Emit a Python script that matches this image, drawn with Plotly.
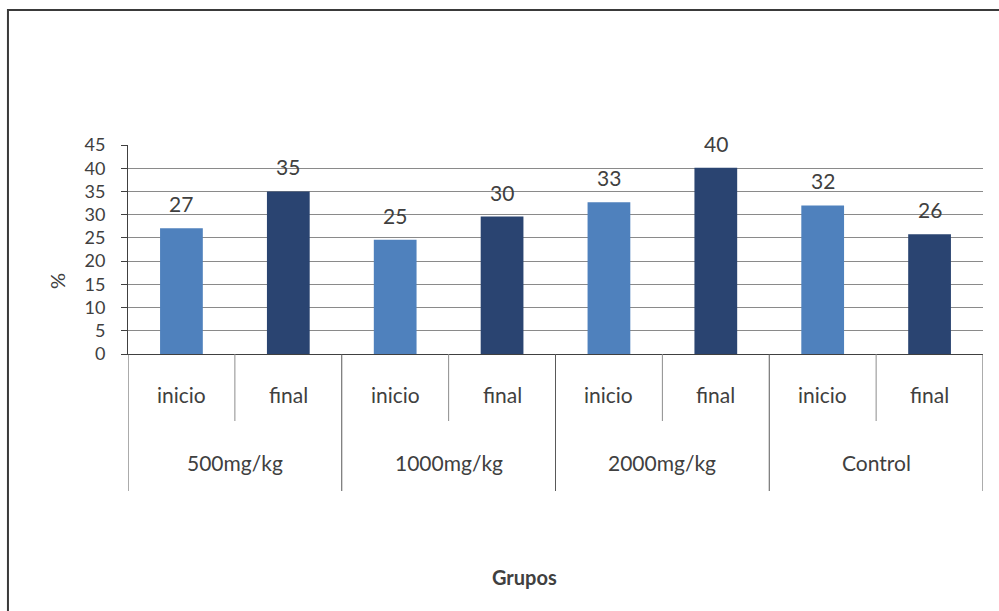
import plotly.graph_objects as go

# Data: percentage per group, measured at start ("inicio") and end ("final")
groups = ["500mg/kg", "1000mg/kg", "2000mg/kg", "Control"]
phases = ["inicio", "final"]
inicio_vals = [27.1, 24.6, 32.7, 32.0]
final_vals = [35.0, 29.6, 40.1, 25.8]
y_ticks = [0, 5, 10, 15, 20, 25, 30, 35, 40, 45]

# Flatten into one ordered sequence of bars: group by group, inicio then final
values = []
phase_of_bar = []
for a, b in zip(inicio_vals, final_vals):
    values += [a, b]
    phase_of_bar += phases
x_pos = list(range(len(values)))

COL_INICIO = "#4F81BD"
COL_FINAL = "#2A4471"
colors = [COL_INICIO if p == "inicio" else COL_FINAL for p in phase_of_bar]

FONT = "Lato, 'Open Sans', sans-serif"
TXT = "#404040"
LABEL_SIZE = 21

fig = go.Figure()
fig.add_trace(go.Bar(
    x=x_pos, y=values, width=0.4,
    marker=dict(color=colors, line=dict(width=0)),
    showlegend=False, hoverinfo="y",
))

annotations = []
# value labels above each bar
for xi, v in zip(x_pos, values):
    annotations.append(dict(
        x=xi, y=v, xref="x", yref="y", text=f"{v:.0f}",
        showarrow=False, yanchor="bottom", yshift=10,
        font=dict(family=FONT, size=LABEL_SIZE, color=TXT),
    ))
# first-level category labels (inicio / final)
for xi, p in zip(x_pos, phase_of_bar):
    annotations.append(dict(
        x=xi, y=-0.196, xref="x", yref="paper", text=p,
        showarrow=False, yanchor="middle",
        font=dict(family=FONT, size=LABEL_SIZE, color=TXT),
    ))
# second-level category labels (groups)
for gi, g in enumerate(groups):
    annotations.append(dict(
        x=2 * gi + 0.5, y=-0.5215, xref="x", yref="paper", text=g,
        showarrow=False, yanchor="middle",
        font=dict(family=FONT, size=LABEL_SIZE, color=TXT),
    ))
# axis titles
annotations.append(dict(
    x=0.464, y=-1.067, xref="paper", yref="paper", text="<b>Grupos</b>",
    showarrow=False, yanchor="middle",
    font=dict(family=FONT, size=20, color=TXT),
))
annotations.append(dict(
    x=-0.083, y=0.349, xref="paper", yref="paper", text="%", textangle=-90,
    showarrow=False, yanchor="middle", xanchor="center",
    font=dict(family=FONT, size=20, color=TXT),
))

shapes = []
# category dividers below the axis: short ones between phases, long ones between groups
n = len(values)
for k in range(n + 1):
    xb = k - 0.5
    is_group = (k % 2 == 0)
    shapes.append(dict(
        type="line", xref="x", yref="paper",
        x0=xb, x1=xb, y0=0, y1=-0.6555 if is_group else -0.3206,
        line=dict(color="#595959" if is_group else "#8c8c8c", width=1),
    ))
# outer chart border
shapes.append(dict(
    type="rect", xref="paper", yref="paper",
    x0=-0.1404, x1=1.2, y0=-1.5, y1=1.646,
    line=dict(color="#3a3a3a", width=2), fillcolor="rgba(0,0,0,0)",
    layer="below",
))

fig.update_layout(
    width=999, height=611,
    margin=dict(l=128, r=16, t=145, b=257),
    paper_bgcolor="white", plot_bgcolor="white",
    bargap=0.6,
    annotations=annotations, shapes=shapes,
    font=dict(family=FONT, color=TXT),
)
fig.update_xaxes(
    range=[-0.5, n - 0.5], showticklabels=False, ticks="",
    showgrid=False, zeroline=False,
    showline=True, linecolor="#404040", linewidth=1,
)
fig.update_yaxes(
    range=[0, 45], tickvals=y_ticks, ticktext=[str(t) for t in y_ticks],
    showgrid=True, gridcolor="#8a8a8a", gridwidth=1,
    zeroline=False,
    showline=True, linecolor="#404040", linewidth=1,
    ticks="outside", ticklen=6, tickcolor="#404040",
    ticklabelstandoff=12,
    tickfont=dict(family=FONT, size=18, color=TXT),
)

fig.write_html("out.html")
